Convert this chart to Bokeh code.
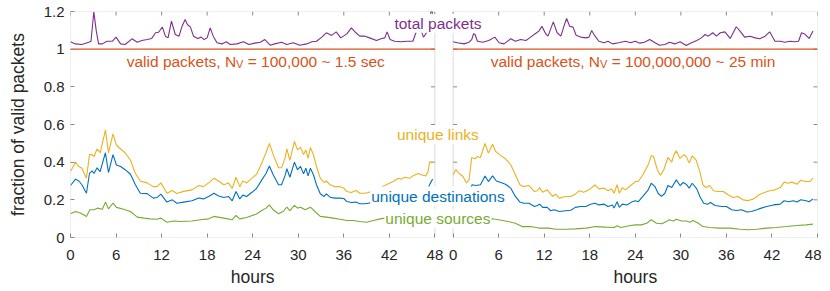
from bokeh.plotting import figure
from bokeh.models import (Range1d, FixedTicker, BoxAnnotation, Label, LinearAxis,
                          CustomJSTickFormatter, NumeralTickFormatter)
from bokeh.embed import file_html
from bokeh.resources import INLINE

# ---------------- data ----------------
HOUR_TICKS = [0, 6, 12, 18, 24, 30, 36, 42, 48]
Y_TICKS = [0, 0.2, 0.4, 0.6, 0.8, 1.0, 1.2]
VALID_FRACTION = 1.0

# left panel (N_V = 100,000)
LEFT_H = [0, 0.66, 1.1, 1.5, 2.1, 2.5, 2.85, 3.1, 3.5, 3.9,
          4.6, 5.0, 5.6, 6.05, 6.6, 7.2, 7.9, 8.55, 9.2, 10.1,
          10.9, 11.4, 11.9, 12.7, 13.4, 14.0, 14.9, 16.0, 16.9, 17.5,
          18.2, 18.9, 19.5, 20.2, 20.8, 21.3, 21.8, 22.3, 22.7, 23.2,
          23.9, 24.5, 25.2, 25.75, 26.2, 26.7, 27.4, 27.8, 28.25, 28.5,
          28.9, 29.5, 29.9, 30.3, 30.7, 31.0, 31.3, 31.6, 32.0, 32.4,
          32.9, 33.4, 33.7, 34.2, 34.8, 35.5, 36.0, 36.4, 37.0, 37.6,
          38.1, 38.8, 39.2, 39.7, 40.3, 41.0, 41.6, 42.5, 43.2, 43.6,
          44.0, 44.7, 45.1, 45.8, 46.2, 46.8, 47.1, 47.3, 47.7]
LEFT_LINKS = [0.35, 0.40, 0.377, 0.368, 0.315, 0.44, 0.44, 0.43, 0.47, 0.45,
              0.57, 0.45, 0.55, 0.49, 0.47, 0.45, 0.41, 0.34, 0.30, 0.29,
              0.27, 0.27, 0.29, 0.235, 0.25, 0.234, 0.245, 0.253, 0.276, 0.27,
              0.29, 0.315, 0.30, 0.28, 0.29, 0.26, 0.32, 0.27, 0.30, 0.29,
              0.315, 0.335, 0.395, 0.45, 0.50, 0.44, 0.37, 0.37, 0.42, 0.47,
              0.41, 0.51, 0.465, 0.48, 0.44, 0.465, 0.42, 0.478, 0.44, 0.377,
              0.315, 0.292, 0.30, 0.28, 0.27, 0.27, 0.262, 0.244, 0.239, 0.25,
              0.235, 0.235, 0.239, 0.245, 0.255, 0.268, 0.28, 0.297, 0.315, 0.31,
              0.32, 0.315, 0.327, 0.34, 0.333, 0.327, 0.35, 0.40, 0.40]
LEFT_DEST = [0.276, 0.31, 0.30, 0.28, 0.235, 0.34, 0.354, 0.34, 0.37, 0.35,
             0.45, 0.345, 0.44, 0.385, 0.377, 0.36, 0.336, 0.28, 0.235, 0.233,
             0.209, 0.212, 0.23, 0.188, 0.20, 0.182, 0.188, 0.195, 0.21, 0.205,
             0.218, 0.235, 0.22, 0.212, 0.218, 0.195, 0.244, 0.205, 0.225, 0.218,
             0.24, 0.26, 0.306, 0.34, 0.38, 0.333, 0.28, 0.28, 0.327, 0.365,
             0.32, 0.40, 0.36, 0.377, 0.338, 0.368, 0.327, 0.368, 0.333, 0.28,
             0.232, 0.218, 0.232, 0.214, 0.209, 0.209, 0.207, 0.191, 0.186, 0.188,
             0.179, 0.179, 0.182, 0.185, 0.19, 0.2, 0.21, 0.22, 0.235, 0.232,
             0.24, 0.238, 0.245, 0.255, 0.25, 0.247, 0.262, 0.28, 0.31]
LEFT_SRC_H = [0, 0.66, 1.3, 2.1, 2.55, 3.1, 3.6, 4.2, 4.6, 5.0,
              5.6, 6.05, 7.0, 7.9, 8.8, 9.7, 10.5, 11.4, 11.9, 12.7,
              13.6, 14.5, 16.0, 17.1, 18.2, 18.9, 20.2, 21.3, 21.8, 22.3,
              23.2, 24.5, 25.2, 25.75, 26.2, 26.7, 27.4, 28.0, 28.5, 28.9,
              29.5, 29.9, 30.3, 30.9, 31.6, 32.2, 32.9, 33.7, 34.6, 35.5,
              36.4, 37.2, 38.1, 39.0, 39.9, 40.8, 41.5, 42.3, 43.2, 44.2,
              45.2, 46.2, 47.2, 47.8]
LEFT_SRC = [0.126, 0.138, 0.13, 0.112, 0.147, 0.147, 0.156, 0.15, 0.188, 0.152,
            0.183, 0.16, 0.15, 0.138, 0.108, 0.103, 0.099, 0.097, 0.103, 0.081,
            0.088, 0.085, 0.088, 0.094, 0.099, 0.112, 0.103, 0.094, 0.117, 0.099,
            0.106, 0.125, 0.143, 0.156, 0.173, 0.147, 0.126, 0.138, 0.161, 0.143,
            0.17, 0.156, 0.161, 0.147, 0.161, 0.138, 0.112, 0.108, 0.103, 0.097,
            0.09, 0.09, 0.085, 0.081, 0.09, 0.099, 0.103, 0.105, 0.11, 0.11,
            0.115, 0.118, 0.125, 0.13]
LEFT_TOTAL_H = [0, 0.66, 1.5, 2.4, 2.7, 3.07, 3.4, 3.7, 4.2, 4.8,
                5.5, 6.0, 6.6, 7.2, 8.1, 8.8, 9.4, 10.1, 10.7, 11.2,
                11.6, 12.1, 12.5, 12.85, 13.3, 13.8, 14.3, 14.7, 15.1, 15.4,
                15.8, 16.2, 16.75, 17.2, 17.6, 18.0, 18.4, 18.8, 19.3, 19.95,
                20.5, 21.05, 21.9, 22.8, 23.5, 24.3, 25.0, 25.6, 26.3, 26.9,
                27.8, 28.5, 29.35, 30.2, 31.1, 31.8, 32.4, 33.1, 33.7, 34.4,
                35.0, 35.6, 36.4, 37.0, 37.6, 38.1, 38.8, 39.4, 40.3, 41.0,
                41.4, 41.7, 42.1, 42.7, 43.6, 44.3, 45.1, 45.5, 45.9, 46.25,
                46.5, 46.9, 47.25, 47.55, 47.8]
LEFT_TOTAL = [1.039, 1.028, 1.025, 1.037, 1.042, 1.198, 1.096, 1.028, 1.028, 1.042,
              1.042, 1.064, 1.028, 1.025, 1.055, 1.037, 1.046, 1.051, 1.057, 1.087,
              1.09, 1.117, 1.069, 1.06, 1.149, 1.078, 1.069, 1.122, 1.158, 1.131,
              1.117, 1.069, 1.057, 1.064, 1.051, 1.06, 1.113, 1.069, 1.034, 1.028,
              1.039, 1.025, 1.028, 1.039, 1.025, 1.032, 1.037, 1.051, 1.021, 1.028,
              1.037, 1.025, 1.034, 1.021, 1.028, 1.039, 1.042, 1.064, 1.087, 1.073,
              1.092, 1.06, 1.081, 1.113, 1.087, 1.069, 1.069, 1.06, 1.046, 1.057,
              1.06, 1.092, 1.051, 1.042, 1.039, 1.042, 1.042, 1.087, 1.11, 1.092,
              1.064, 1.087, 1.13, 1.22, 1.16]

# right panel (N_V = 100,000,000)
RIGHT_LINKS_H = [0, 0.35, 0.8, 1.3, 1.75, 2.1, 2.45, 2.9, 3.2, 3.6,
                 4.2, 4.65, 5.2, 5.6, 6.3, 6.9, 7.6, 8.2, 8.8, 9.3,
                 10.0, 10.7, 11.1, 11.4, 11.8, 12.4, 13.1, 13.5, 14.0, 14.8,
                 15.5, 16.1, 16.6, 17.2, 17.9, 18.7, 19.2, 19.9, 20.4, 20.9,
                 21.2, 21.6, 21.9, 22.3, 22.7, 23.4, 24.0, 24.4, 25.0, 25.7,
                 26.1, 26.4, 26.9, 27.3, 27.75, 28.3, 28.8, 29.1, 29.4, 29.9,
                 30.4, 30.7, 31.1, 31.5, 32.0, 32.5, 32.9, 33.3, 33.8, 34.3,
                 34.9, 35.6, 36.2, 36.9, 37.5, 38.2, 38.9, 39.6, 40.3, 41.1,
                 41.7, 42.4, 43.1, 43.6, 44.1, 44.6, 45.3, 45.8, 46.4, 47.0,
                 47.4]
RIGHT_LINKS = [0.333, 0.36, 0.34, 0.324, 0.29, 0.306, 0.425, 0.418, 0.43, 0.425,
               0.50, 0.448, 0.495, 0.457, 0.435, 0.418, 0.386, 0.333, 0.28, 0.27,
               0.276, 0.244, 0.248, 0.265, 0.24, 0.253, 0.218, 0.23, 0.209, 0.218,
               0.218, 0.23, 0.248, 0.24, 0.253, 0.28, 0.258, 0.262, 0.248, 0.258,
               0.235, 0.28, 0.235, 0.265, 0.253, 0.276, 0.297, 0.297, 0.333, 0.386,
               0.435, 0.43, 0.36, 0.33, 0.36, 0.425, 0.40, 0.44, 0.46, 0.42,
               0.44, 0.43, 0.395, 0.434, 0.412, 0.35, 0.28, 0.265, 0.276, 0.248,
               0.244, 0.244, 0.227, 0.212, 0.218, 0.20, 0.196, 0.205, 0.227, 0.24,
               0.248, 0.253, 0.265, 0.294, 0.288, 0.294, 0.283, 0.304, 0.297, 0.297,
               0.315]
RIGHT_DEST_H = [0, 0.35, 0.8, 1.3, 1.75, 2.1, 2.5, 3.0, 3.6, 4.2,
                4.65, 5.2, 5.7, 6.3, 6.9, 7.6, 8.2, 8.8, 9.3, 10.0,
                10.7, 11.1, 11.4, 11.8, 12.4, 12.85, 13.3, 14.0, 14.8, 15.5,
                16.1, 16.8, 17.5, 18.1, 18.7, 19.2, 19.9, 20.4, 21.0, 21.2,
                21.6, 21.9, 22.3, 22.9, 23.5, 24.0, 24.4, 25.0, 25.7, 26.1,
                26.6, 27.0, 27.45, 27.9, 28.3, 28.8, 29.4, 29.9, 30.3, 30.7,
                31.1, 31.5, 32.1, 32.5, 33.0, 33.5, 33.9, 34.5, 35.4, 36.0,
                36.7, 37.3, 38.0, 38.7, 39.3, 40.0, 40.6, 41.3, 42.2, 43.1,
                43.6, 44.2, 44.8, 45.3, 45.8, 46.5, 46.9, 47.4]
RIGHT_DEST = [0.253, 0.262, 0.258, 0.246, 0.22, 0.233, 0.28, 0.276, 0.28, 0.327,
              0.297, 0.327, 0.30, 0.292, 0.283, 0.262, 0.218, 0.188, 0.182, 0.182,
              0.165, 0.17, 0.177, 0.16, 0.16, 0.142, 0.147, 0.138, 0.142, 0.145,
              0.16, 0.165, 0.165, 0.177, 0.182, 0.173, 0.177, 0.165, 0.173, 0.156,
              0.19, 0.16, 0.177, 0.173, 0.188, 0.195, 0.19, 0.218, 0.253, 0.288,
              0.27, 0.235, 0.218, 0.235, 0.276, 0.265, 0.306, 0.276, 0.292, 0.283,
              0.262, 0.288, 0.258, 0.218, 0.182, 0.177, 0.186, 0.17, 0.165, 0.165,
              0.147, 0.143, 0.147, 0.135, 0.138, 0.147, 0.156, 0.165, 0.173, 0.177,
              0.195, 0.19, 0.195, 0.188, 0.20, 0.195, 0.19, 0.205]
RIGHT_SRC_H = [0, 0.8, 1.3, 1.75, 2.45, 3.2, 4.2, 4.65, 5.2, 5.6,
               6.9, 8.2, 9.1, 10.2, 11.3, 12.6, 13.5, 14.8, 16.1, 17.5,
               18.8, 20.1, 21.2, 21.6, 22.1, 23.2, 24.0, 24.8, 25.5, 26.1,
               26.8, 27.5, 28.1, 28.5, 29.0, 29.4, 30.1, 30.7, 31.2, 31.6,
               32.3, 32.9, 33.8, 35.1, 36.5, 37.8, 38.9, 40.0, 41.3, 42.6,
               43.9, 45.3, 46.5, 47.4]
RIGHT_SRC = [0.072, 0.072, 0.07, 0.065, 0.085, 0.09, 0.104, 0.095, 0.1, 0.097,
             0.088, 0.076, 0.058, 0.058, 0.05, 0.05, 0.044, 0.044, 0.046, 0.05,
             0.058, 0.055, 0.053, 0.062, 0.053, 0.062, 0.067, 0.067, 0.076, 0.094,
             0.076, 0.073, 0.085, 0.094, 0.088, 0.097, 0.088, 0.088, 0.081, 0.09,
             0.076, 0.058, 0.053, 0.05, 0.05, 0.044, 0.041, 0.044, 0.05, 0.053,
             0.058, 0.064, 0.067, 0.071]
RIGHT_TOTAL_H = [0, 0.57, 1.45, 2.1, 2.45, 2.7, 2.9, 3.2, 3.9, 4.7,
                 5.5, 6.05, 6.7, 7.6, 8.2, 8.9, 9.6, 10.2, 11.0, 11.3,
                 11.7, 12.2, 12.5, 13.2, 13.7, 14.2, 14.6, 14.95, 15.35, 15.8,
                 16.2, 16.8, 17.5, 17.9, 18.25, 18.7, 19.2, 19.9, 20.4, 21.0,
                 21.8, 22.7, 23.4, 24.0, 24.6, 25.2, 25.9, 26.6, 27.2, 27.9,
                 28.5, 29.2, 29.9, 30.7, 31.4, 32.1, 32.7, 33.2, 33.6, 34.2,
                 34.7, 35.2, 35.8, 36.5, 37.3, 37.8, 38.4, 39.1, 39.8, 40.4,
                 41.1, 41.7, 42.4, 43.1, 43.7, 44.4, 45.0, 45.5, 45.9, 46.3,
                 46.9, 47.4]
RIGHT_TOTAL = [1.039, 1.034, 1.028, 1.037, 1.051, 1.082, 1.078, 1.042, 1.037, 1.046,
               1.064, 1.034, 1.028, 1.055, 1.042, 1.051, 1.046, 1.064, 1.087, 1.096,
               1.122, 1.081, 1.069, 1.145, 1.087, 1.069, 1.122, 1.163, 1.122, 1.117,
               1.074, 1.064, 1.06, 1.064, 1.099, 1.069, 1.042, 1.034, 1.042, 1.028,
               1.034, 1.042, 1.034, 1.042, 1.032, 1.037, 1.051, 1.034, 1.021, 1.025,
               1.037, 1.028, 1.039, 1.019, 1.034, 1.046, 1.06, 1.078, 1.069, 1.087,
               1.069, 1.087, 1.092, 1.057, 1.119, 1.096, 1.064, 1.069, 1.06, 1.055,
               1.069, 1.092, 1.042, 1.042, 1.037, 1.042, 1.039, 1.042, 1.087, 1.081,
               1.057, 1.096]

for name, a, b in [("LEFT_LINKS", LEFT_H, LEFT_LINKS), ("LEFT_DEST", LEFT_H, LEFT_DEST),
                   ("LEFT_SRC", LEFT_SRC_H, LEFT_SRC), ("LEFT_TOTAL", LEFT_TOTAL_H, LEFT_TOTAL),
                   ("RIGHT_LINKS", RIGHT_LINKS_H, RIGHT_LINKS), ("RIGHT_DEST", RIGHT_DEST_H, RIGHT_DEST),
                   ("RIGHT_SRC", RIGHT_SRC_H, RIGHT_SRC), ("RIGHT_TOTAL", RIGHT_TOTAL_H, RIGHT_TOTAL)]:
    assert len(a) == len(b), (name, len(a), len(b))

# ---------------- styling / layout ----------------
FONT = "Liberation Sans"
TEXT = "#262626"
GRAY = "#8a8a8a"
C_TOTAL = "#7E2F8E"
C_VALID = "#D95319"
C_LINKS = "#EDB120"
C_DEST = "#0072BD"
C_SRC = "#77AC30"

SPAN = 48.0
GAP = 2.4
OFF = SPAN + GAP
Y_MIN, Y_MAX = Y_TICKS[0], Y_TICKS[-1]
FRAME_W, FRAME_H = 747, 226
PX_PER_H = FRAME_W / (OFF + SPAN)
PX_PER_Y = FRAME_H / (Y_MAX - Y_MIN)
TICK_PX = 4

p = figure(frame_width=FRAME_W, frame_height=FRAME_H,
           x_range=Range1d(0, OFF + SPAN), y_range=Range1d(Y_MIN, Y_MAX),
           output_backend="svg", toolbar_location=None,
           min_border_left=70, min_border_right=4, min_border_top=11, min_border_bottom=0,
           background_fill_color="white", border_fill_color="white")
p.outline_line_color = None
p.xgrid.visible = False
p.ygrid.visible = False

all_xticks = HOUR_TICKS + [t + OFF for t in HOUR_TICKS]
fmt = CustomJSTickFormatter(args=dict(off=OFF, span=SPAN),
                            code="const h = tick > span + 0.5 ? tick - off : tick; return Math.round(h).toString();")


def style_axis(ax):
    ax.axis_line_color = None
    ax.major_tick_in = TICK_PX
    ax.major_tick_out = 0
    ax.major_tick_line_color = GRAY
    ax.minor_tick_line_color = None
    ax.major_label_text_font = FONT
    ax.major_label_text_color = TEXT
    ax.major_label_text_font_size = "15px"
    ax.axis_label_text_font = FONT
    ax.axis_label_text_font_size = "17.5px"
    ax.axis_label_text_font_style = "normal"
    ax.axis_label_text_color = TEXT


xa = p.xaxis[0]
xa.ticker = FixedTicker(ticks=all_xticks)
xa.formatter = fmt
style_axis(xa)
xa.major_label_standoff = 12

# second row below: one "hours" title under the middle of each panel
title_axis = LinearAxis(ticker=FixedTicker(ticks=[SPAN / 2, OFF + SPAN / 2]),
                        formatter=CustomJSTickFormatter(code="return 'hours';"))
style_axis(title_axis)
title_axis.major_tick_line_color = None
title_axis.major_tick_in = 0
title_axis.major_label_text_font_size = "17.5px"
title_axis.major_label_standoff = 4
p.add_layout(title_axis, "below")

ya = p.yaxis[0]
ya.ticker = FixedTicker(ticks=Y_TICKS)
ya.formatter = NumeralTickFormatter(format="0.[0]")
style_axis(ya)
ya.major_label_standoff = 6
ya.axis_label = "fraction of valid packets"
ya.axis_label_standoff = 13

# tick marks on the remaining box edges (top of both panels, facing edges, far right)
tick_h = TICK_PX / PX_PER_H
tick_y = TICK_PX / PX_PER_Y
inner_y = Y_TICKS[1:-1]
p.segment(x0=all_xticks, y0=[Y_MAX] * len(all_xticks), x1=all_xticks,
          y1=[Y_MAX - tick_y] * len(all_xticks), line_color=GRAY, line_width=1)
for edge, direction in [(SPAN, -1), (OFF, 1), (OFF + SPAN, -1)]:
    p.segment(x0=[edge] * len(inner_y), y0=inner_y, x1=[edge + direction * tick_h] * len(inner_y),
              y1=inner_y, line_color=GRAY, line_width=1)

# data lines
LW = 1.1
for off, hv in [(0, [(LEFT_TOTAL_H, LEFT_TOTAL, C_TOTAL), (LEFT_H, LEFT_LINKS, C_LINKS),
                     (LEFT_H, LEFT_DEST, C_DEST), (LEFT_SRC_H, LEFT_SRC, C_SRC)]),
                (OFF, [(RIGHT_TOTAL_H, RIGHT_TOTAL, C_TOTAL), (RIGHT_LINKS_H, RIGHT_LINKS, C_LINKS),
                       (RIGHT_DEST_H, RIGHT_DEST, C_DEST), (RIGHT_SRC_H, RIGHT_SRC, C_SRC)])]:
    for hs, vs, col in hv:
        p.line([h + off for h in hs], vs, line_color=col, line_width=LW)
    p.line([off, off + SPAN], [VALID_FRACTION, VALID_FRACTION], line_color=C_VALID, line_width=1.3)

# panel boxes
for off in (0, OFF):
    p.add_layout(BoxAnnotation(left=off, right=off + SPAN, bottom=Y_MIN, top=Y_MAX,
                               fill_color=None, line_color=GRAY, line_width=1))

# annotations
LBL = "15.5px"
LABEL_X = 48.4


def add_label(text, y, color):
    p.add_layout(Label(x=LABEL_X, y=y, text=text, text_align="center", text_baseline="alphabetic",
                       text_font=FONT, text_font_size=LBL, text_color=color,
                       background_fill_color="white", background_fill_alpha=1.0, padding=1))


add_label("total packets", 1.137, C_TOTAL)
add_label("unique links", 0.547, C_LINKS)
add_label("unique destinations", 0.22, C_DEST)
add_label("unique sources", 0.099, C_SRC)

ARIAL = {' ': 278, ',': 278, '.': 278, '=': 584, '~': 584, '0': 556, '1': 556, '2': 556, '5': 556,
         'N': 722, 'V': 667, 'a': 556, 'c': 500, 'd': 556, 'e': 556, 'i': 222, 'k': 500, 'l': 222,
         'm': 833, 'n': 556, 'p': 556, 's': 500, 't': 278, 'v': 500}


def tw(s, size):
    return sum(ARIAL[c] for c in s) * size / 1000.0


MAIN_PX, SUB_PX = 15.5, 11.0
VALID_Y = 0.932
for cx, tail in [(24.4, "= 100,000 ~ 1.5 sec"), (OFF + 23.7, "= 100,000,000 ~ 25 min")]:
    # (text, font px, vertical offset px, gap before it in px)
    parts = [("valid packets, N", MAIN_PX, 0, 0.0), ("V", SUB_PX, -2.5, 0.0),
             (tail, MAIN_PX, 0, tw(" ", MAIN_PX))]
    total = sum(tw(s, sz) + g for s, sz, _, g in parts)
    xo = -total / 2.0
    for s, sz, yo, g in parts:
        xo += g
        p.add_layout(Label(x=cx, y=VALID_Y, x_offset=xo, y_offset=yo, text=s,
                           text_align="left", text_baseline="alphabetic",
                           text_font=FONT, text_font_size=f"{sz}px", text_color=C_VALID))
        xo += tw(s, sz)

open("out.html", "w").write(file_html(p, INLINE))
